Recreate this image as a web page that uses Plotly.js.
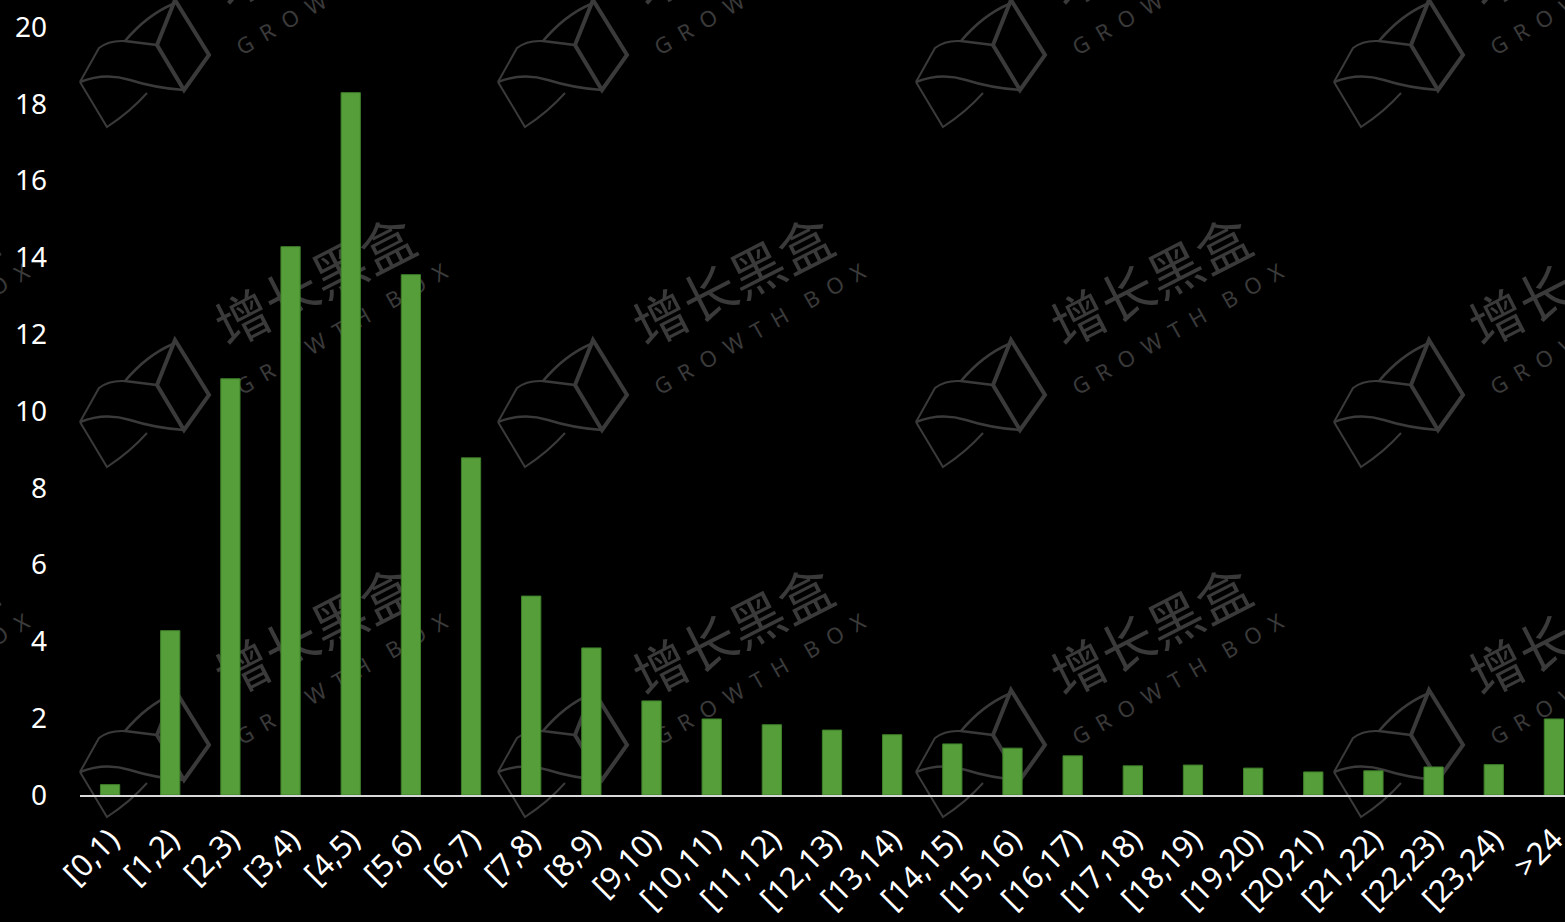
<!DOCTYPE html>
<html>
<head>
<meta charset="utf-8">
<script src="https://cdn.plot.ly/plotly-3.0.1.min.js"></script>
<style>
html,body{margin:0;padding:0;background:#000;overflow:hidden;width:1565px;height:922px;}
#chart{width:1600px;height:922px;}
</style>
</head>
<body>
<div id="chart"></div>
<script>
const categories = ["[0,1)","[1,2)","[2,3)","[3,4)","[4,5)","[5,6)","[6,7)","[7,8)","[8,9)","[9,10)","[10,11)","[11,12)","[12,13)","[13,14)","[14,15)","[15,16)","[16,17)","[17,18)","[18,19)","[19,20)","[20,21)","[21,22)","[22,23)","[23,24)",">24"];
const values = [0.27,4.28,10.84,14.28,18.29,13.55,8.78,5.18,3.83,2.45,1.98,1.83,1.69,1.57,1.33,1.22,1.02,0.76,0.78,0.70,0.60,0.63,0.73,0.79,1.98];
const yTicks = [0,2,4,6,8,10,12,14,16,18,20];

// faint watermark (text + logo outline), drawn below the bars
const wmTitle = '增长黑盒';
const wmSub = 'G\u2002R\u2002O\u2002W\u2002T\u2002H\u2002\u2002B\u2002O\u2002X';
const wmCols = [-100, 318, 736, 1154, 1572];
const wmRows = [-53, 287, 637, 987];
const L = 80, W = 1504, B = 795, H = 768;
const WM = '#3a3a3a';
const shapes = [];
const px2x = p => ((p - L) / W).toFixed(5);
const px2y = p => ((B - p) / H).toFixed(5);
function wmText(px, py, txt, size, fam, ang) {
  const xc = (px - L) / W, yc = (B - py) / H;
  shapes.push({type:'rect', layer:'below', xref:'paper', yref:'paper',
    x0:xc - 0.002, x1:xc + 0.002, y0:yc - 0.003, y1:yc + 0.003,
    line:{width:0}, fillcolor:'rgba(0,0,0,0)',
    label:{text:txt, textangle:ang, textposition:'middle center',
      font:{family:fam, size:size, color:WM}}});
}
function wmPath(ox, oy, cmds, width) {
  let d = '';
  cmds.forEach(c => {
    d += c[0];
    for (let i = 1; i < c.length; i += 2) {
      d += ' ' + px2x(ox + c[i]) + ',' + px2y(oy + c[i + 1]);
    }
    d += ' ';
  });
  shapes.push({type:'path', layer:'below', xref:'paper', yref:'paper', path:d.trim(),
    line:{color:WM, width:width}, fillcolor:'rgba(0,0,0,0)'});
}
wmCols.forEach(cx => wmRows.forEach(cy => {
  wmText(cx, cy, wmTitle, 54, 'Noto Sans CJK SC', -27);
  wmText(cx + 24, cy + 43, wmSub, 22, 'Noto Sans', -30);
  const tx = cx - 143, ty = cy + 53;
  wmPath(tx, ty, [['M',0,0],['L',34,55],['L',9,90],['L',-18,45],['Z']], 4);
  wmPath(tx, ty, [['M',-2,4],['Q',-28,15,-50,41],['L',-18,45]], 2.5);
  wmPath(tx, ty, [['M',-50,41],['Q',-66,40,-76,48],['L',-95,82]], 2);
  wmPath(tx, ty, [['M',-95,82],['Q',-70,72,-45,80],['Q',-20,88,9,90]], 2.5);
  wmPath(tx, ty, [['M',-95,82],['L',-68,127],['Q',-45,112,-28,93]], 2);
}));

const trace = {
  type:'bar', x:categories, y:values,
  marker:{color:'#559E3A', line:{color:'#3F7F2A', width:1}},
  hoverinfo:'skip'
};

const layout = {
  width:1600, height:922,
  paper_bgcolor:'#000000', plot_bgcolor:'rgba(0,0,0,0)',
  margin:{l:80, r:16, t:27, b:127},
  bargap:0.68,
  showlegend:false,
  font:{family:'Noto Sans, Open Sans, sans-serif', color:'#ffffff'},
  xaxis:{
    type:'category', tickangle:-45, showgrid:false, zeroline:false,
    showline:true, linecolor:'#d9d9d9', linewidth:2,
    ticks:'', tickfont:{size:31, color:'#ffffff'}, ticklabelstandoff:12
  },
  yaxis:{
    range:[0,20], tickvals:yTicks, showgrid:false, zeroline:false, showline:false,
    ticks:'', tickfont:{size:28, color:'#ffffff'}, ticklabelstandoff:32
  },
  shapes:shapes
};

Plotly.newPlot('chart', [trace], layout, {displayModeBar:false, staticPlot:true});
</script>
</body>
</html>
